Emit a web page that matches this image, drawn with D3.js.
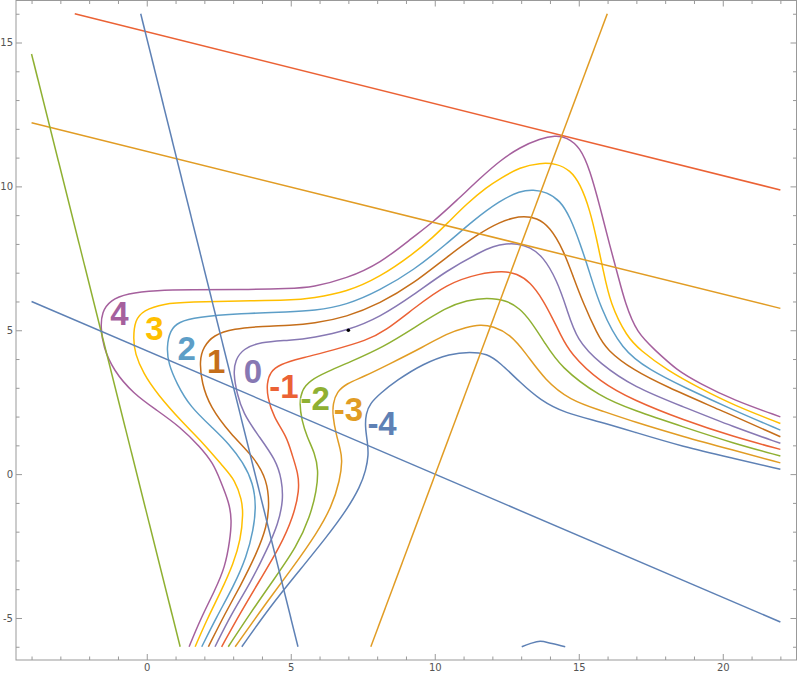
<!DOCTYPE html>
<html><head><meta charset="utf-8">
<script src="https://cdn.jsdelivr.net/npm/d3@7"></script>
<style>html,body{margin:0;padding:0;background:#fff;}svg{display:block;}</style>
</head><body>
<svg id="chart" width="797" height="673"></svg>
<script>
// ---------- DATA ----------
const levels = ["4","3","2","1","0","-1","-2","-3","-4"];
const levelColors = ["#A5609D","#FFBF00","#5D9EC7","#C56E1A","#8778B3","#EB6235","#8FB032","#E19C24","#5E81B5"];

const c4 = [[1.47,-6],[1.85,-5.07],[2.37,-4.03],[2.72,-3.23],[2.89,-2.29],[2.95,-1.6],[2.87,-1.01],[2.55,-0.21],[2.31,0.37],[1.85,0.95],[1.16,1.64],[0.35,2.22],[-0.47,2.8],[-1.16,3.61],[-1.51,4.42],[-1.6,5.1],[-1.56,5.63],[-1.27,6.04],[-0.69,6.28],[0.35,6.39],[1.5,6.41],[3.24,6.41],[4.98,6.45],[5.77,6.5],[6.94,6.8],[8.1,7.32],[9.25,8.24],[9.94,8.76],[10.76,9.51],[11.57,10.28],[12.27,10.9],[12.96,11.36],[13.66,11.66],[14.18,11.77],[14.58,11.71],[15.05,11.36],[15.39,10.56],[15.74,9.28],[16.09,7.89],[16.36,6.91],[16.61,5.94],[17.02,4.9],[17.65,4.31],[18.4,3.61],[19.21,3.15],[20.37,2.57],[22,1.99]];
const c3 = [[1.68,-6],[2.08,-5.07],[2.6,-4.03],[3.01,-3.1],[3.26,-2.29],[3.35,-1.36],[3.3,-0.9],[3.07,-0.21],[2.66,0.25],[1.97,1.07],[1.27,1.76],[0.35,2.8],[-0.12,3.5],[-0.41,4.19],[-0.47,4.71],[-0.41,5.35],[-0.12,5.69],[0.58,5.93],[1.5,5.98],[3.24,6.02],[4.98,6.04],[5.78,6.12],[6.94,6.33],[8.1,6.85],[9.26,7.66],[9.95,8.24],[10.42,8.7],[11.11,9.4],[11.81,9.98],[12.27,10.27],[12.96,10.67],[13.66,10.82],[14.24,10.79],[14.7,10.56],[15.05,10.09],[15.39,9.17],[15.63,8.13],[15.85,7.08],[16.09,5.93],[16.67,4.77],[17.13,4.31],[18.06,3.61],[19.21,2.98],[20.37,2.4],[22,1.76]];
const c2 = [[1.91,-6],[2.43,-4.95],[3.01,-3.91],[3.47,-2.87],[3.7,-1.94],[3.8,-1.14],[3.7,-0.32],[3.34,0.42],[2.86,1.04],[2.34,1.56],[1.5,2.34],[1.04,3.15],[0.75,3.84],[0.69,4.42],[0.81,5.0],[1.1,5.29],[1.74,5.46],[3.24,5.58],[4.98,5.64],[5.78,5.68],[6.94,5.87],[8.1,6.39],[9.26,7.08],[10.42,8.01],[11.34,8.82],[12.27,9.51],[12.96,9.84],[13.42,9.89],[13.89,9.8],[14.35,9.51],[14.7,8.93],[15.05,8.01],[15.39,6.97],[15.74,5.81],[16.49,4.31],[17.48,3.61],[18.63,3.03],[20.37,2.22],[22,1.53]];
const c1 = [[2.14,-6],[2.72,-4.84],[3.24,-3.91],[3.82,-2.75],[4.17,-1.83],[4.26,-1.02],[4.17,-0.21],[3.76,0.56],[2.89,1.41],[2.2,2.34],[1.91,3.15],[1.83,3.96],[1.97,4.42],[2.31,4.83],[3.01,5.06],[4.05,5.14],[4.98,5.17],[5.78,5.23],[6.94,5.46],[8.1,5.93],[9.26,6.62],[10.42,7.55],[11.57,8.39],[12.27,8.76],[12.73,8.91],[13.08,8.96],[13.54,8.91],[14.0,8.59],[14.47,7.78],[14.81,6.85],[15.16,5.93],[15.63,4.89],[15.97,4.31],[16.9,3.61],[18.06,3.03],[19.79,2.28],[22,1.3]];
const c0 = [[2.37,-6],[2.95,-4.84],[3.59,-3.8],[4.17,-2.64],[4.57,-1.71],[4.74,-0.9],[4.69,-0.21],[4.49,0.49],[3.82,1.41],[3.35,2.11],[3.13,2.8],[3.01,3.5],[3.07,3.96],[3.35,4.36],[3.93,4.59],[4.98,4.65],[5.78,4.74],[7.0,5.0],[8.1,5.46],[9.26,6.22],[10.42,7.08],[11.57,7.71],[12.03,7.92],[12.5,8.01],[12.85,8.01],[13.31,7.89],[13.77,7.55],[14.24,6.74],[14.58,5.76],[14.93,4.65],[15.74,3.84],[16.9,3.03],[18.63,2.34],[20.37,1.64],[22,1.07]];
const cm1 = [[2.6,-6],[3.24,-4.84],[3.93,-3.68],[4.63,-2.52],[5.09,-1.48],[5.3,-0.56],[5.26,0.02],[5.03,0.72],[4.86,1.3],[4.4,1.99],[4.19,2.68],[4.17,3.15],[4.28,3.55],[4.63,3.82],[5.32,4.02],[6.48,4.31],[7.64,4.65],[8.27,4.97],[9.26,5.75],[10.42,6.62],[11.57,6.98],[12.38,7.06],[12.85,6.97],[13.31,6.68],[13.77,6.04],[14.12,5.35],[14.35,4.89],[14.7,4.19],[15.74,3.2],[16.9,2.57],[18.63,1.88],[20.37,1.3],[22,0.86]];
const cm2 = [[2.83,-6],[3.59,-4.84],[4.4,-3.68],[5.21,-2.52],[5.67,-1.48],[5.9,-0.56],[5.96,0.14],[5.84,0.72],[5.56,1.3],[5.38,1.88],[5.3,2.45],[5.38,2.92],[5.67,3.26],[6.25,3.55],[7.06,3.9],[8.22,4.42],[9.26,5.07],[10.42,5.81],[11.11,6.04],[11.81,6.14],[12.5,6.04],[12.96,5.75],[13.31,5.35],[13.83,4.55],[14.35,3.73],[15.74,2.68],[16.9,2.22],[18.63,1.64],[20.37,1.07],[22,0.63]];
const cm3 = [[3.07,-6],[4.05,-4.61],[5.09,-3.22],[5.9,-2.06],[6.42,-1.14],[6.71,-0.21],[6.79,0.49],[6.73,0.83],[6.57,1.41],[6.46,1.99],[6.46,2.45],[6.6,2.86],[6.94,3.15],[7.52,3.38],[8.45,3.84],[9.6,4.42],[10.42,4.89],[11.11,5.11],[11.57,5.2],[12.03,5.14],[12.61,4.86],[13.14,4.24],[13.83,3.26],[14.7,2.57],[15.74,2.22],[16.9,1.82],[18.63,1.3],[20.37,0.83],[22,0.39]];
const cm4 = [[3.3,-6],[4.28,-4.61],[5.32,-3.33],[6.25,-2.18],[6.94,-1.25],[7.41,-0.44],[7.61,0.14],[7.7,0.66],[7.67,1.07],[7.58,1.64],[7.61,2.11],[7.75,2.45],[8.1,2.8],[8.68,3.26],[9.6,3.84],[10.53,4.19],[11.23,4.25],[11.81,4.19],[12.27,3.87],[12.96,3.19],[13.66,2.57],[14.52,2.12],[15.74,1.82],[16.9,1.47],[18.63,0.95],[20.37,0.55],[22,0.17]];
const cm4b = [[13.02,-6],[13.31,-5.89],[13.66,-5.81],[14.07,-5.89],[14.53,-6]];

const contourData = [c4,c3,c2,c1,c0,cm1,cm2,cm3,cm4];

// contour label anchor points (data units)
const labelX = [-0.95,0.27,1.39,2.41,3.69,4.76,5.85,7.00,8.17];
const labelY = [5.57,5.06,4.36,3.92,3.55,3.03,2.63,2.25,1.76];

// straight lines (endpoints, data units)
const lineRed       = [[-2.5,16],[22,9.875]];
const lineOrangeA   = [[-4,12.21],[22,5.76]];
const lineGreen     = [[-4,14.6],[1.16,-6]];
const lineBlueSteep = [[-0.21,16],[5.25,-6]];
const lineBlueFlat  = [[-4,6.0],[22,-5.14]];
const lineOrangeB   = [[7.78,-6],[15.99,16]];
const lineData   = [lineRed,lineOrangeA,lineGreen,lineBlueSteep,lineBlueFlat,lineOrangeB];
const lineColors = ["#EB6235","#E19C24","#8FB032","#5E81B5","#5E81B5","#E19C24"];

const point = [7,5];

const xMajor = [0,5,10,15,20];
const yMajor = [-5,0,5,10,15];
const xMinor = d3.range(-4,23).filter(v=>!xMajor.includes(v));
const yMinor = d3.range(-6,17).filter(v=>!yMajor.includes(v));

// ---------- CHART ----------
const svg = d3.select("#chart");
const L=16, R=796.5, T=0.5, B=660;
const x = d3.scaleLinear().domain([-4.54,22.56]).range([L,R]);
const y = d3.scaleLinear().domain([-6.46,16.46]).range([B,T]);

const frameColor = "#999";
const labColor = "#555";

function styleAxis(g){
  g.select(".domain").remove();
  g.selectAll(".tick line").attr("stroke",frameColor);
  g.selectAll(".tick text").attr("fill",labColor).attr("font-family","'DejaVu Sans', sans-serif").attr("font-size",10);
}
// bottom
svg.append("g").attr("transform",`translate(0,${B})`).call(d3.axisBottom(x).tickValues(xMajor).tickSize(-6).tickPadding(4).tickFormat(d3.format("d"))).call(styleAxis);
svg.append("g").attr("transform",`translate(0,${B})`).call(d3.axisBottom(x).tickValues(xMinor).tickSize(-3.5).tickFormat("")).call(styleAxis);
// top
svg.append("g").attr("transform",`translate(0,${T})`).call(d3.axisTop(x).tickValues(xMajor).tickSize(-6).tickFormat("")).call(styleAxis);
svg.append("g").attr("transform",`translate(0,${T})`).call(d3.axisTop(x).tickValues(xMinor).tickSize(-3.5).tickFormat("")).call(styleAxis);
// left
svg.append("g").attr("transform",`translate(${L},0)`).call(d3.axisLeft(y).tickValues(yMajor).tickSize(-6).tickPadding(3).tickFormat(d=>String(d))).call(styleAxis);
svg.append("g").attr("transform",`translate(${L},0)`).call(d3.axisLeft(y).tickValues(yMinor).tickSize(-3.5).tickFormat("")).call(styleAxis);
// right
svg.append("g").attr("transform",`translate(${R},0)`).call(d3.axisRight(y).tickValues(yMajor).tickSize(-6).tickFormat("")).call(styleAxis);
svg.append("g").attr("transform",`translate(${R},0)`).call(d3.axisRight(y).tickValues(yMinor).tickSize(-3.5).tickFormat("")).call(styleAxis);

svg.append("rect").attr("x",L).attr("y",T).attr("width",R-L).attr("height",B-T)
  .attr("fill","none").attr("stroke",frameColor).attr("stroke-width",1);

const line = d3.line().x(d=>x(d[0])).y(d=>y(d[1])).curve(d3.curveBasis);
const straight = d3.line().x(d=>x(d[0])).y(d=>y(d[1]));

const gC = svg.append("g");
gC.selectAll("path.contour").data(contourData).join("path")
  .attr("class","contour").attr("d",line).attr("fill","none")
  .attr("stroke",(d,i)=>levelColors[i]).attr("stroke-width",1.5);
gC.append("path").datum(cm4b).attr("d",d3.line().x(d=>x(d[0])).y(d=>y(d[1])).curve(d3.curveCatmullRom.alpha(0.5))).attr("fill","none")
  .attr("stroke",levelColors[8]).attr("stroke-width",1.5);

svg.append("g").selectAll("path").data(lineData).join("path")
  .attr("d",straight).attr("fill","none")
  .attr("stroke",(d,i)=>lineColors[i]).attr("stroke-width",1.5);

svg.append("circle").attr("cx",x(point[0])).attr("cy",y(point[1])).attr("r",1.8).attr("fill","#000");

svg.append("g").selectAll("text").data(levels).join("text")
  .attr("x",(d,i)=>x(labelX[i])).attr("y",(d,i)=>y(labelY[i]))
  .attr("text-anchor","middle").attr("dominant-baseline","central")
  .attr("font-family","'Liberation Sans', Arial, sans-serif").attr("font-weight","bold")
  .attr("font-size",33)
  .attr("fill",(d,i)=>levelColors[i])
  .attr("stroke","#fff").attr("stroke-width",2).attr("stroke-opacity",0.7).attr("paint-order","stroke")
  .text(d=>d);
</script>
</body></html>
